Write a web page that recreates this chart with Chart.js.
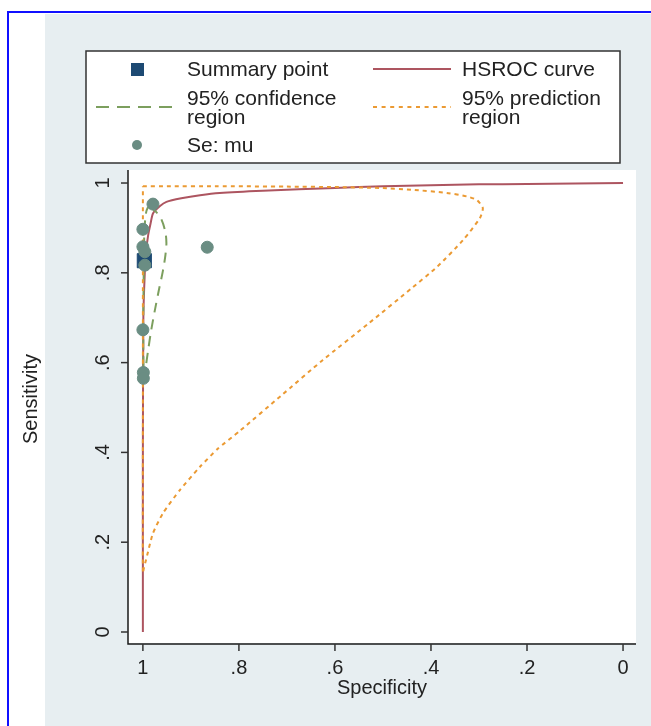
<!DOCTYPE html>
<html>
<head>
<meta charset="utf-8">
<title>SROC</title>
<script src="https://cdn.jsdelivr.net/npm/chart.js@4/dist/chart.umd.min.js"></script>
<style>
  html, body { margin: 0; padding: 0; background: #fff; }
  canvas { display: block; }
</style>
</head>
<body>
<canvas id="chart" width="651" height="726"></canvas>
<script>
// data (x = specificity, y = sensitivity)
const studySpec = [0.979, 1.0, 1.0, 0.996, 0.996, 0.866, 1.0, 0.999, 0.999];
const studySens = [0.953, 0.897, 0.858, 0.847, 0.817, 0.857, 0.673, 0.578, 0.565];

const summarySpec = [0.997];
const summarySens = [0.827];

const hsrocSpec = [1.0, 1.0, 0.999, 0.996, 0.993, 0.989, 0.984, 0.979, 0.965, 0.951, 0.92, 0.881, 0.84, 0.75, 0.6, 0.5, 0.4, 0.3, 0.2, 0.1, 0.0];
const hsrocSens = [0.0, 0.4, 0.7, 0.8, 0.85, 0.884, 0.91, 0.932, 0.948, 0.958, 0.966, 0.973, 0.978, 0.983, 0.989, 0.993, 0.995, 0.997, 0.998, 0.999, 1.0];

const confSpec = [0.985, 0.972, 0.961, 0.953, 0.951, 0.953, 0.958, 0.967, 0.975, 0.983, 0.989, 0.994, 0.996, 0.998, 0.999, 0.999, 0.998, 0.997, 0.994, 0.99, 0.985];
const confSens = [0.947, 0.935, 0.918, 0.89, 0.866, 0.84, 0.806, 0.76, 0.717, 0.67, 0.628, 0.59, 0.569, 0.575, 0.62, 0.72, 0.82, 0.89, 0.93, 0.945, 0.947];

const predSpec = [1.0, 0.95, 0.85, 0.7, 0.6, 0.506, 0.44, 0.367, 0.325, 0.304, 0.292, 0.298, 0.333, 0.3875, 0.44, 0.529, 0.625, 0.7125, 0.798, 0.844, 0.881, 0.923, 0.958, 0.979, 0.992, 0.998, 1.0, 1.0, 1.0, 1.0];
const predSens = [0.993, 0.993, 0.993, 0.992, 0.991, 0.989, 0.985, 0.978, 0.97, 0.962, 0.944, 0.922, 0.873, 0.813, 0.766, 0.688, 0.606, 0.526, 0.448, 0.408, 0.368, 0.316, 0.265, 0.22, 0.167, 0.142, 0.131, 0.5, 0.85, 0.993];

const tickValues = [1, 0.8, 0.6, 0.4, 0.2, 0];
const tickLabels = ['1', '.8', '.6', '.4', '.2', '0'];

const xTitle = 'Specificity';
const yTitle = 'Sensitivity';

// colours
const NAVY = '#1d4a73';
const TEAL = '#6a8d83';
const RED = '#ad5560';
const GREEN = '#7c9f5e';
const ORANGE = '#eb9a33';
const PANEL = '#e7eef1';
const FONT = '"Liberation Sans", Arial, sans-serif';

const pts = (xs, ys) => xs.map((x, i) => ({ x, y: ys[i] }));

// frame, panel, axes and legend (Stata look)
const stataLook = {
  id: 'stataLook',
  beforeDraw(chart) {
    const { ctx, chartArea: a } = chart;
    ctx.save();
    ctx.fillStyle = '#fff';
    ctx.fillRect(0, 0, chart.width, chart.height);
    ctx.fillStyle = PANEL;
    ctx.fillRect(45, 14, chart.width - 45, chart.height - 14);
    ctx.fillStyle = '#fff';
    ctx.fillRect(a.left, a.top, a.right - a.left, a.bottom - a.top);
    ctx.strokeStyle = '#1010ff';
    ctx.lineWidth = 2;
    ctx.beginPath();
    ctx.moveTo(8, chart.height);
    ctx.lineTo(8, 12);
    ctx.lineTo(chart.width, 12);
    ctx.stroke();
    ctx.restore();
  },
  afterDraw(chart) {
    const { ctx, chartArea: a, scales: { x, y } } = chart;
    ctx.save();
    // axis lines
    ctx.strokeStyle = '#1a1a1a';
    ctx.lineWidth = 1.5;
    ctx.beginPath();
    ctx.moveTo(a.left, a.top);
    ctx.lineTo(a.left, a.bottom + 1);
    ctx.lineTo(a.right, a.bottom + 1);
    ctx.stroke();

    ctx.fillStyle = '#222';
    ctx.font = '20px ' + FONT;
    ctx.lineWidth = 1.5;
    ctx.strokeStyle = '#333';
    tickValues.forEach((v, i) => {
      // y ticks, rotated labels
      const py = y.getPixelForValue(v);
      ctx.beginPath();
      ctx.moveTo(a.left - 7, py);
      ctx.lineTo(a.left, py);
      ctx.stroke();
      ctx.save();
      ctx.translate(103, py);
      ctx.rotate(-Math.PI / 2);
      ctx.textAlign = 'center';
      ctx.textBaseline = 'middle';
      ctx.fillText(tickLabels[i], 0, 0);
      ctx.restore();
      // x ticks
      const px = x.getPixelForValue(v);
      ctx.beginPath();
      ctx.moveTo(px, a.bottom + 1);
      ctx.lineTo(px, a.bottom + 8);
      ctx.stroke();
      ctx.textAlign = 'center';
      ctx.textBaseline = 'middle';
      ctx.fillText(tickLabels[i], px, 668);
    });

    ctx.fillText(xTitle, (a.left + a.right) / 2, 688);
    ctx.save();
    ctx.translate(31, 399);
    ctx.rotate(-Math.PI / 2);
    ctx.fillText(yTitle, 0, 0);
    ctx.restore();

    // legend box
    ctx.fillStyle = '#fff';
    ctx.fillRect(86, 51, 534, 112);
    ctx.strokeStyle = '#333';
    ctx.lineWidth = 1.5;
    ctx.strokeRect(86, 51, 534, 112);

    ctx.fillStyle = NAVY;
    ctx.fillRect(131, 63, 13, 13);
    ctx.fillStyle = TEAL;
    ctx.beginPath();
    ctx.arc(137, 145, 5, 0, Math.PI * 2);
    ctx.fill();

    ctx.lineWidth = 2;
    ctx.strokeStyle = RED;
    ctx.beginPath(); ctx.moveTo(373, 69); ctx.lineTo(451, 69); ctx.stroke();
    ctx.strokeStyle = GREEN;
    ctx.setLineDash([13, 8]);
    ctx.beginPath(); ctx.moveTo(96, 107); ctx.lineTo(178, 107); ctx.stroke();
    ctx.strokeStyle = ORANGE;
    ctx.setLineDash([4, 4.6]);
    ctx.beginPath(); ctx.moveTo(373, 107); ctx.lineTo(451, 107); ctx.stroke();
    ctx.setLineDash([]);

    ctx.fillStyle = '#222';
    ctx.font = '21px ' + FONT;
    ctx.textAlign = 'left';
    ctx.textBaseline = 'middle';
    ctx.fillText('Summary point', 187, 70);
    ctx.fillText('HSROC curve', 462, 70);
    ctx.fillText('95% confidence', 187, 99);
    ctx.fillText('region', 187, 118);
    ctx.fillText('95% prediction', 462, 99);
    ctx.fillText('region', 462, 118);
    ctx.fillText('Se: mu', 187, 146);
    ctx.restore();
  }
};

new Chart(document.getElementById('chart'), {
  type: 'scatter',
  data: {
    datasets: [
      {
        label: 'Se: mu',
        data: pts(studySpec, studySens),
        backgroundColor: TEAL,
        borderColor: TEAL,
        pointRadius: 6,
        order: 1
      },
      {
        label: 'Summary point',
        data: pts(summarySpec, summarySens),
        pointStyle: 'rect',
        backgroundColor: NAVY,
        borderColor: NAVY,
        pointRadius: 10,
        order: 2
      },
      {
        label: '95% prediction region',
        data: pts(predSpec, predSens),
        showLine: true,
        borderColor: ORANGE,
        borderWidth: 2,
        borderDash: [4, 4],
        pointRadius: 0,
        tension: 0.2,
        order: 3
      },
      {
        label: '95% confidence region',
        data: pts(confSpec, confSens),
        showLine: true,
        borderColor: GREEN,
        borderWidth: 2,
        borderDash: [10, 7],
        pointRadius: 0,
        tension: 0.3,
        order: 4
      },
      {
        label: 'HSROC curve',
        data: pts(hsrocSpec, hsrocSens),
        showLine: true,
        borderColor: RED,
        borderWidth: 2,
        pointRadius: 0,
        tension: 0.2,
        order: 5
      }
    ]
  },
  options: {
    responsive: false,
    animation: false,
    layout: { padding: { left: 128, top: 170, right: 15, bottom: 83 } },
    plugins: { legend: { display: false }, tooltip: { enabled: false } },
    scales: {
      x: { type: 'linear', display: false, reverse: true, min: -0.027, max: 1.031 },
      y: { type: 'linear', display: false, min: -0.0245, max: 1.029 }
    }
  },
  plugins: [stataLook]
});
</script>
</body>
</html>
